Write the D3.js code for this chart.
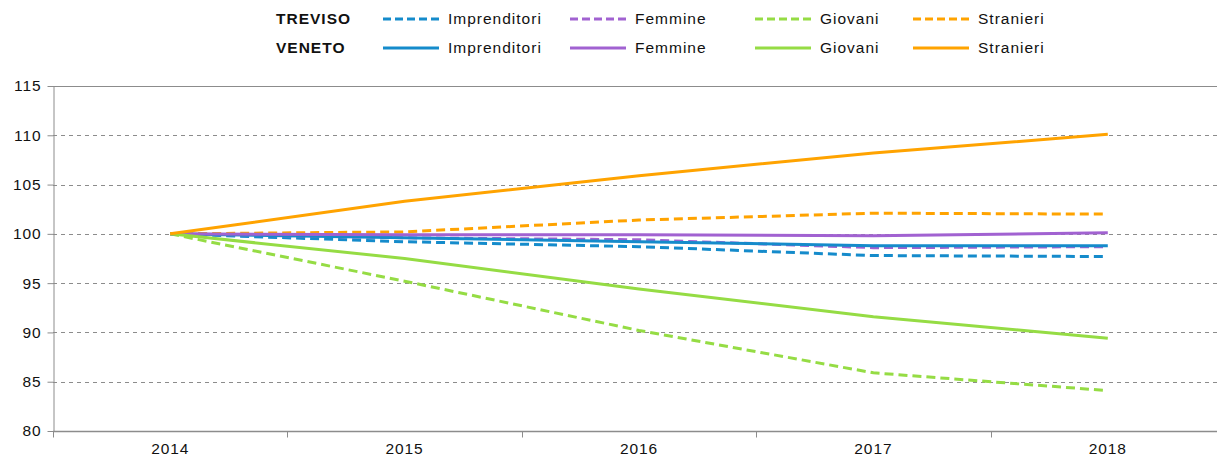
<!DOCTYPE html>
<html>
<head>
<title>Treviso vs Veneto</title>
<meta charset="utf-8">
<style type="text/css">
body { margin: 0; background-color: #fff; font-family: "Liberation Sans", Arial, sans-serif; }
svg { display: block; overflow: hidden; }
.axis text { font-size: 15.5px; fill: #111; letter-spacing: 0.9px; font-family: "Liberation Sans", Arial, sans-serif; }
</style>
</head>
<body>
<svg id="chart"></svg>
<script src="https://d3js.org/d3.v7.min.js"></script>
<script type="text/javascript">
const WIDTH = 1217;
const HEIGHT = 458;
const MARGIN = {top: 86, right: -8, bottom: 27, left: 53};

const years = ["2014", "2015", "2016", "2017", "2018"];
const yTicks = [80, 85, 90, 95, 100, 105, 110, 115];
const categories = ["Imprenditori", "Femmine", "Giovani", "Stranieri"];
const COLORS = ["#158bcb", "#a162d1", "#95dc44", "#ffa300"];

const trevisoImprenditori = [100, 99.2, 98.7, 97.8, 97.7];
const trevisoFemmine = [100, 99.6, 99.4, 98.6, 98.7];
const trevisoGiovani = [100, 95.2, 90.2, 85.9, 84.1];
const trevisoStranieri = [100, 100.2, 101.4, 102.1, 102.0];

const venetoImprenditori = [100, 99.6, 99.2, 98.8, 98.8];
const venetoFemmine = [100, 99.9, 99.9, 99.8, 100.1];
const venetoGiovani = [100, 97.5, 94.4, 91.6, 89.4];
const venetoStranieri = [100, 103.3, 105.9, 108.2, 110.1];

const treviso = [trevisoImprenditori, trevisoFemmine, trevisoGiovani, trevisoStranieri];
const veneto = [venetoImprenditori, venetoFemmine, venetoGiovani, venetoStranieri];

const svg = d3.select("#chart").attr("width", WIDTH).attr("height", HEIGHT);

const x = d3.scaleBand()
    .domain(years)
    .range([MARGIN.left, WIDTH - MARGIN.right]);
const y = d3.scaleLinear()
    .domain([80, 115])
    .range([HEIGHT - MARGIN.bottom, MARGIN.top]);

// grid
svg.append("g")
    .selectAll("line")
    .data(yTicks.filter(v => v > 80))
    .join("line")
    .attr("x1", MARGIN.left)
    .attr("x2", WIDTH)
    .attr("y1", d => Math.round(y(d)) + 0.5)
    .attr("y2", d => Math.round(y(d)) + 0.5)
    .attr("stroke", "#8c8c8c")
    .attr("stroke-width", 1)
    .attr("stroke-dasharray", d => d === 115 ? null : "4,4");

// y axis
const yAxis = svg.append("g")
    .attr("class", "axis")
    .attr("transform", `translate(${MARGIN.left + 0.5},0)`)
    .call(d3.axisLeft(y).tickValues(yTicks).tickSize(6).tickSizeOuter(0).tickPadding(6));
yAxis.selectAll("line, path").attr("stroke", "#8c8c8c");

// x axis: ticks between categories
const xAxis = svg.append("g")
    .attr("class", "axis")
    .attr("transform", `translate(0,${Math.round(y(80)) + 0.5})`)
    .call(d3.axisBottom(x).tickSize(0).tickPadding(11));
xAxis.select("path").remove();
xAxis.append("line")
    .attr("x1", MARGIN.left).attr("x2", WIDTH)
    .attr("stroke", "#8c8c8c").attr("stroke-width", 1.5);
xAxis.selectAll(".sep")
    .data(years)
    .join("line")
    .attr("class", "sep")
    .attr("x1", d => Math.round(x(d)) + 0.5)
    .attr("x2", d => Math.round(x(d)) + 0.5)
    .attr("y1", 0).attr("y2", 6)
    .attr("stroke", "#8c8c8c");

const line = d3.line()
    .x((d, i) => x(years[i]) + x.bandwidth() / 2)
    .y(d => y(d));

// treviso dashed first, veneto solid over it
treviso.forEach((s, i) => {
    svg.append("path").datum(s)
        .attr("fill", "none")
        .attr("stroke", COLORS[i])
        .attr("stroke-width", 3)
        .attr("stroke-dasharray", "9,5")
        .attr("d", line);
});
veneto.forEach((s, i) => {
    svg.append("path").datum(s)
        .attr("fill", "none")
        .attr("stroke", COLORS[i])
        .attr("stroke-width", 3)
        .attr("stroke-linejoin", "round")
        .attr("d", line);
});

// legend
const LEG_X = [383, 570, 755, 913];
const legend = svg.append("g")
    .attr("font-size", 15.5)
    .attr("letter-spacing", "1px")
    .attr("fill", "#111");
[["TREVISO", "9,5", 19], ["VENETO", null, 48]].forEach(([name, dash, ly]) => {
    legend.append("text")
        .attr("x", 276).attr("y", ly).attr("dy", "0.35em")
        .attr("font-weight", "bold")
        .text(name);
    categories.forEach((c, i) => {
        legend.append("line")
            .attr("x1", LEG_X[i]).attr("x2", LEG_X[i] + 56)
            .attr("y1", ly).attr("y2", ly)
            .attr("stroke", COLORS[i])
            .attr("stroke-width", 3)
            .attr("stroke-dasharray", dash ? "8,4" : null);
        legend.append("text")
            .attr("x", LEG_X[i] + 65).attr("y", ly).attr("dy", "0.35em")
            .text(c);
    });
});
</script>
</body>
</html>
